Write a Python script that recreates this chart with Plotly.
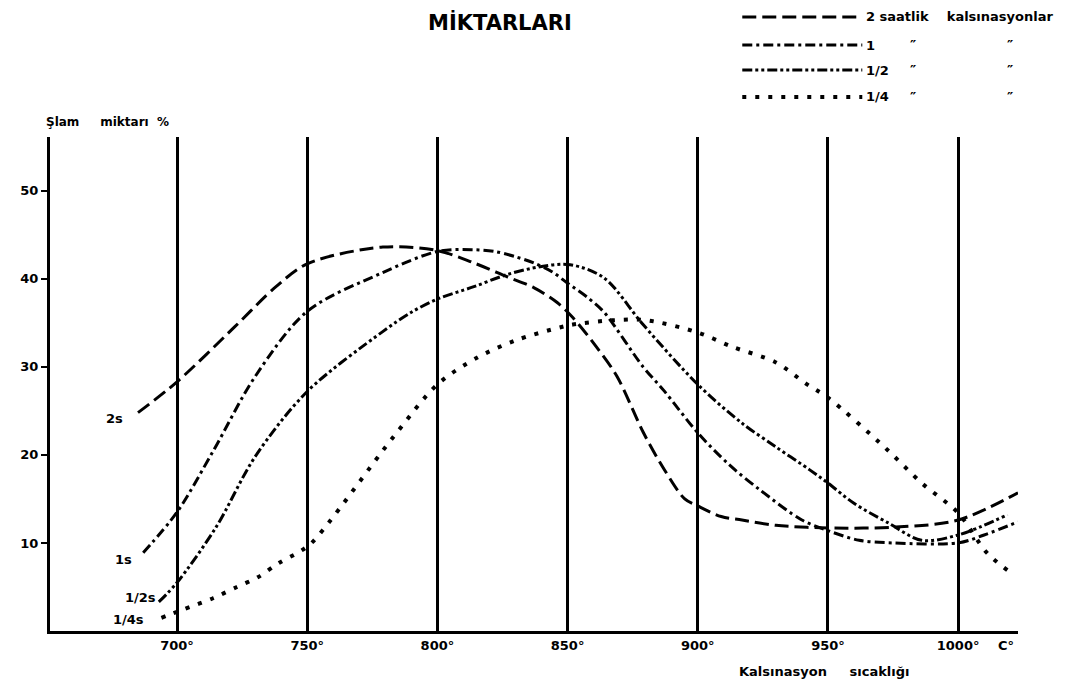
import plotly.graph_objects as go

# ---- data ----
t_2s = [685, 700, 722, 738, 750, 779, 800, 814, 827, 837, 846, 852, 861, 869, 879, 887, 895, 900, 909, 917, 930, 950, 976, 1000, 1023]
v_2s = [24.8, 28.3, 34.5, 39.1, 41.7, 43.6, 43.2, 41.8, 40.2, 39.0, 37.3, 35.6, 32.3, 28.9, 22.6, 18.4, 15.0, 14.2, 13.0, 12.6, 12.0, 11.7, 11.8, 12.6, 15.7]

t_1s = [687, 700, 714, 730, 750, 779, 800, 814, 822, 830, 837, 844, 850, 858, 864, 879, 887, 900, 912, 924, 940, 950, 962, 975, 1000, 1010, 1023]
v_1s = [8.9, 13.5, 20.5, 28.9, 36.3, 40.7, 43.1, 43.3, 43.1, 42.5, 41.8, 40.8, 39.5, 37.8, 36.2, 30.0, 27.3, 22.5, 18.9, 16.0, 12.6, 11.4, 10.3, 10.0, 10.0, 10.9, 12.4]

t_half = [693, 700, 715, 730, 750, 779, 790, 800, 814, 827, 840, 851, 864, 879, 900, 917, 930, 943, 950, 960, 973, 986, 1000, 1019]
v_half = [3.3, 5.5, 11.8, 19.8, 27.2, 34.0, 36.2, 37.7, 39.1, 40.5, 41.4, 41.6, 40.1, 34.8, 28.0, 23.6, 20.9, 18.3, 16.8, 14.5, 12.3, 10.3, 10.9, 13.2]

t_quarter = [694, 702, 714, 723, 731, 739, 747, 752, 783, 800, 815, 830, 846, 852, 868, 880, 900, 913, 930, 942, 950, 972, 986, 1000, 1011, 1019]
v_quarter = [1.5, 2.4, 3.75, 5.0, 6.1, 7.7, 9.0, 10.1, 22.0, 28.0, 31.0, 33.0, 34.4, 34.8, 35.3, 35.3, 33.9, 32.3, 30.5, 28.0, 26.5, 20.8, 16.8, 13.4, 8.9, 6.9]

x_ticks = [700, 750, 800, 850, 900, 950, 1000]
x_tick_text = ["700°", "750°", "800°", "850°", "900°", "950°", "1000°"]
y_ticks = [10, 20, 30, 40, 50]

series = [
    ("2s", t_2s, v_2s, "14px,6px", 3),
    ("1s", t_1s, v_1s, "10px,4px,3px,4px", 3),
    ("1/2s", t_half, v_half, "10px,3px,3px,3px,3px,3px", 3),
    ("1/4s", t_quarter, v_quarter, "4px,9px", 4),
]

FONT = "DejaVu Sans"
X_RANGE = [651.2, 1023.0]
Y_RANGE = [0, 56.1]
OFF = 8  # page body margin in the browser
W, H = 1080 - OFF, 684 - OFF
ML, MR, MT, MB = 42 - OFF, 62, 137 - OFF, 53

def paper(px, py):
    px -= OFF
    py -= OFF
    return ((px - ML) / (W - ML - MR), (H - MB - py) / (H - MT - MB))

fig = go.Figure()
for name, t, v, dash, w in series:
    fig.add_trace(go.Scatter(x=t, y=v, mode="lines", name=name,
                             line=dict(color="black", width=w, dash=dash,
                                       shape="spline", smoothing=0.9),
                             showlegend=False, hoverinfo="skip"))

annotations = []
curve_labels = [("2s", 676, 24.1), ("1s", 679.5, 8.1), ("1/2s", 686, 3.8), ("1/4s", 681.5, 1.3)]
for txt, x, y in curve_labels:
    annotations.append(dict(x=x, y=y, xref="x", yref="y", text="<b>" + txt + "</b>",
                            showarrow=False, font=dict(family=FONT, size=13, color="black")))

def ann_px(px, py, text, size=12, anchor="left"):
    xp, yp = paper(px, py)
    annotations.append(dict(x=xp, y=yp, xref="paper", yref="paper", text="<b>" + text + "</b>",
                            showarrow=False, xanchor=anchor, yanchor="middle",
                            font=dict(family=FONT, size=size, color="black")))

NB = "\u00a0"
ann_px(496, 22, "MİKTARLARI", size=21, anchor="center")
ann_px(36, 122, "Şlam" + NB * 5 + "miktarı" + NB * 2 + "%", size=12)
ann_px(823, 671, "Kalsınasyon" + NB * 5 + "sıcaklığı", size=13, anchor="center")
ann_px(1006, 645, "C°", size=13, anchor="center")

legend_rows = [
    (17, "2" + NB + "saatlik" + NB * 4 + "kalsınasyonlar", None),
    (45, "1", "″"),
    (70, "1/2", "″"),
    (97, "1/4", "″"),
]
shapes = []
for (py, label, ditto), (_, _, _, dash, w) in zip(legend_rows, series):
    x0, y0 = paper(740, py)
    x1, _ = paper(861, py)
    shapes.append(dict(type="line", xref="paper", yref="paper", x0=x0, x1=x1, y0=y0, y1=y0,
                       line=dict(color="black", width=w, dash=dash)))
    ann_px(863, py, label, size=13)
    if ditto:
        ann_px(912, py, ditto, size=14, anchor="center")
        ann_px(1010, py, ditto, size=14, anchor="center")

fig.update_layout(
    width=W, height=H,
    margin=dict(l=ML, r=MR, t=MT, b=MB),
    paper_bgcolor="white", plot_bgcolor="white",
    showlegend=False,
    annotations=annotations,
    shapes=shapes,
    xaxis=dict(range=X_RANGE, tickvals=x_ticks, ticktext=x_tick_text,
               showgrid=True, gridcolor="black", gridwidth=3,
               showline=True, linecolor="black", linewidth=3,
               zeroline=False, ticks="",
               tickfont=dict(family=FONT, size=13, color="black", weight="bold")),
    yaxis=dict(range=Y_RANGE, tickvals=y_ticks, showgrid=False,
               showline=True, linecolor="black", linewidth=3,
               zeroline=False, ticks="outside", ticklen=6, tickwidth=2, tickcolor="black",
               tickfont=dict(family=FONT, size=13, color="black", weight="bold")),
)

fig.write_html("out.html")
